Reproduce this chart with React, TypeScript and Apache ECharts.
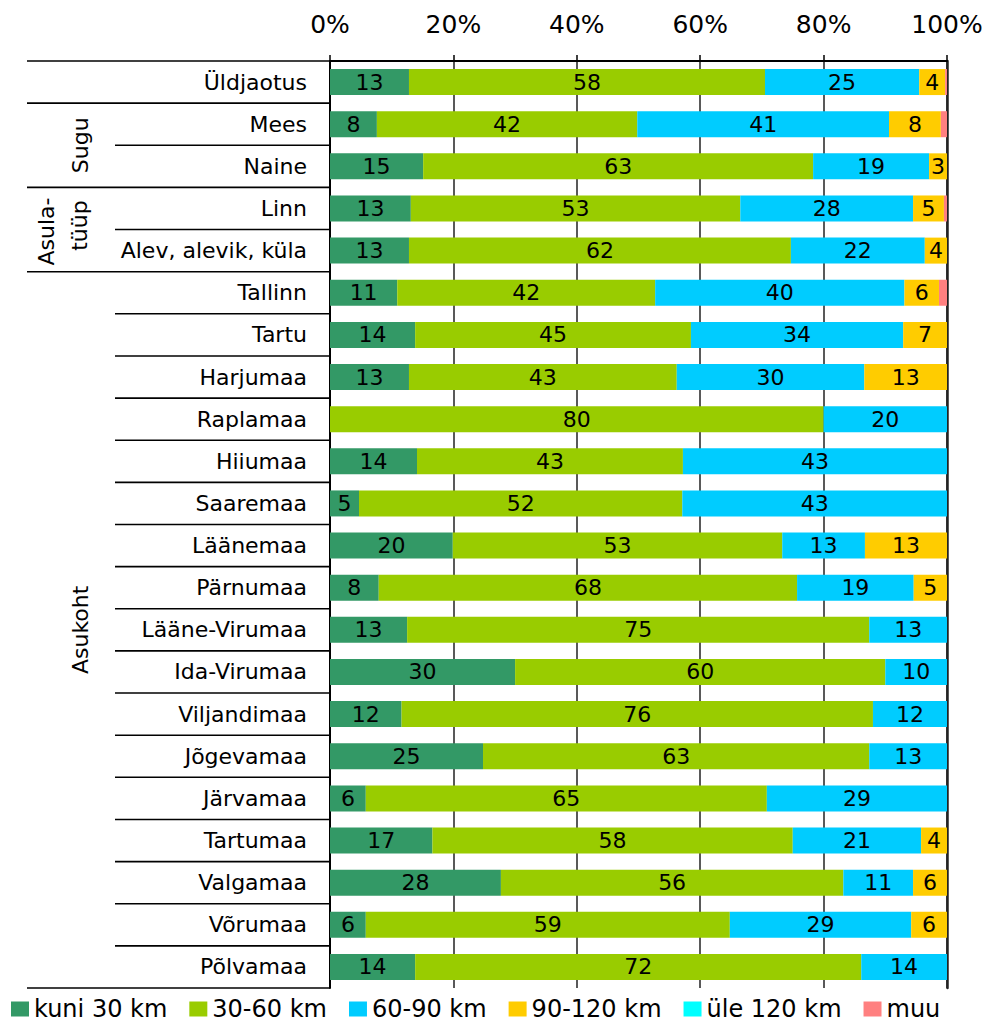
import React, { useEffect, useRef } from "react";
import * as echarts from "echarts";

const categories = [
  "Üldjaotus", "Mees", "Naine", "Linn", "Alev, alevik, küla",
  "Tallinn", "Tartu", "Harjumaa", "Raplamaa", "Hiiumaa", "Saaremaa",
  "Läänemaa", "Pärnumaa", "Lääne-Virumaa", "Ida-Virumaa", "Viljandimaa",
  "Jõgevamaa", "Järvamaa", "Tartumaa", "Valgamaa", "Võrumaa", "Põlvamaa",
];

const seriesNames = ["kuni 30 km", "30-60 km", "60-90 km", "90-120 km", "üle 120 km", "muu"];
const seriesColors = ["#339966", "#99CC00", "#00CCFF", "#FFCC00", "#00FFFF", "#FF8080"];

const kuni30 = [12.8, 7.6, 15.1, 13.1, 12.8, 10.9, 13.8, 12.8, 0, 14.1, 4.7, 19.9, 7.9, 12.5, 30.0, 11.6, 24.8, 5.8, 16.6, 27.7, 5.8, 13.8];
const km30_60 = [57.7, 42.2, 63.2, 53.4, 61.9, 41.8, 44.7, 43.4, 80.0, 43.1, 52.4, 53.4, 67.8, 74.9, 60.0, 76.4, 62.6, 65.0, 58.4, 55.5, 59.0, 72.3];
const km60_90 = [25.0, 40.8, 18.8, 28.0, 21.7, 40.4, 34.4, 30.4, 20.0, 42.8, 42.9, 13.4, 18.9, 12.6, 10.0, 12.0, 12.6, 29.2, 20.8, 11.3, 29.4, 13.9];
const km90_120 = [4.2, 8.4, 2.9, 5.0, 3.6, 5.6, 7.1, 13.4, 0, 0, 0, 13.3, 5.4, 0, 0, 0, 0, 0, 4.2, 5.5, 5.8, 0];
const ule120 = [0, 0, 0, 0, 0, 0, 0, 0, 0, 0, 0, 0, 0, 0, 0, 0, 0, 0, 0, 0, 0, 0];
const muu = [0.3, 1.0, 0, 0.5, 0, 1.3, 0, 0, 0, 0, 0, 0, 0, 0, 0, 0, 0, 0, 0, 0, 0, 0];

const xTicks = [0, 20, 40, 60, 80, 100];

// group brackets: label lines, first and last category index
const groups: { lines: string[]; from: number; to: number }[] = [
  { lines: ["Sugu"], from: 1, to: 2 },
  { lines: ["Asula-", "tüüp"], from: 3, to: 4 },
  { lines: ["Asukoht"], from: 5, to: 21 },
];
const fullSeparators = [0, 1, 3, 5, 22];

const FONT = "DejaVu Sans";
const W = 987;
const H = 1027;
const GRID_LEFT = 330;
const GRID_RIGHT = 40;
const GRID_TOP = 61;
const GRID_BOTTOM = 39;

export default function App() {
  const ref = useRef<HTMLDivElement>(null);

  useEffect(() => {
    if (!ref.current) return;
    const chart = echarts.init(ref.current, undefined, { renderer: "svg" });
    const allData = [kuni30, km30_60, km60_90, km90_120, ule120, muu];
    const n = categories.length;
    const band = (H - GRID_TOP - GRID_BOTTOM) / n;
    const axisX = GRID_LEFT;

    const graphics: any[] = [];
    for (let i = 0; i <= n; i++) {
      const y = GRID_TOP + i * band;
      const full = fullSeparators.indexOf(i) >= 0;
      graphics.push({
        type: "line",
        shape: { x1: full ? 27 : 115, y1: y, x2: axisX, y2: y },
        style: { stroke: "#000", lineWidth: 1.6 },
        z: 10,
      });
    }
    groups.forEach((g) => {
      const cy = GRID_TOP + ((g.from + g.to + 1) / 2) * band;
      const textStyle = {
        fontFamily: FONT,
        fontSize: 22,
        fill: "#000",
        align: "center",
        verticalAlign: "middle",
      };
      if (g.lines.length === 1) {
        graphics.push({
          type: "text",
          x: 80,
          y: cy,
          rotation: Math.PI / 2,
          style: { ...textStyle, text: g.lines[0] },
          z: 10,
        });
      } else {
        g.lines.forEach((t, li) => {
          graphics.push({
            type: "text",
            x: li === 0 ? 46 : 79,
            y: li === 0 ? cy + 2 : cy - 4,
            rotation: Math.PI / 2,
            style: { ...textStyle, text: t },
            z: 10,
          });
        });
      }
    });

    const series = seriesNames.map((name, si) => ({
      name,
      type: "bar",
      stack: "total",
      barWidth: 26,
      yAxisIndex: 0,
      itemStyle: { color: seriesColors[si] },
      label: {
        show: si !== 5 && si !== 4,
        position: "inside",
        color: "#000",
        fontFamily: FONT,
        fontSize: 22,
        formatter: (p: any) => (p.value > 0 ? String(Math.round(p.value)) : ""),
      },
      data: allData[si],
    }));

    chart.setOption({
      animation: false,
      textStyle: { fontFamily: FONT },
      grid: { left: GRID_LEFT, right: GRID_RIGHT, top: GRID_TOP, bottom: GRID_BOTTOM, containLabel: false },
      xAxis: {
        type: "value",
        position: "top",
        min: xTicks[0],
        max: xTicks[xTicks.length - 1],
        interval: xTicks[1] - xTicks[0],
        axisLine: { show: true, lineStyle: { color: "#000", width: 2 } },
        axisTick: { show: true, length: 6, lineStyle: { color: "#000", width: 1.5 } },
        axisLabel: { formatter: "{value}%", fontFamily: FONT, fontSize: 25, color: "#000", margin: 24 },
        splitLine: { show: true, lineStyle: { color: "#222", width: 1.5 } },
      },
      yAxis: [
        {
          type: "category",
          inverse: true,
          data: categories,
          axisLine: { show: true, lineStyle: { color: "#000", width: 2 } },
          axisTick: { show: false },
          axisLabel: { fontFamily: FONT, fontSize: 22, color: "#000", margin: 23 },
          splitLine: { show: false },
        },
        {
          type: "category",
          inverse: true,
          position: "right",
          data: categories,
          axisLine: { show: true, lineStyle: { color: "#222", width: 2.5 } },
          axisTick: { show: false },
          axisLabel: { show: false },
          splitLine: { show: false },
        },
      ],
      legend: {
        data: seriesNames,
        left: 6,
        top: 995,
        padding: [2, 5, 2, 5],
        itemWidth: 18,
        itemHeight: 15,
        itemGap: 22,
        icon: "rect",
        textStyle: { fontFamily: FONT, fontSize: 24, color: "#000" },
      },
      graphic: graphics,
      series,
    });

    return () => chart.dispose();
  }, []);

  return (
    <div
      ref={ref}
      style={{ position: "absolute", left: 0, top: 0, width: W, height: H, background: "#fff" }}
    />
  );
}
